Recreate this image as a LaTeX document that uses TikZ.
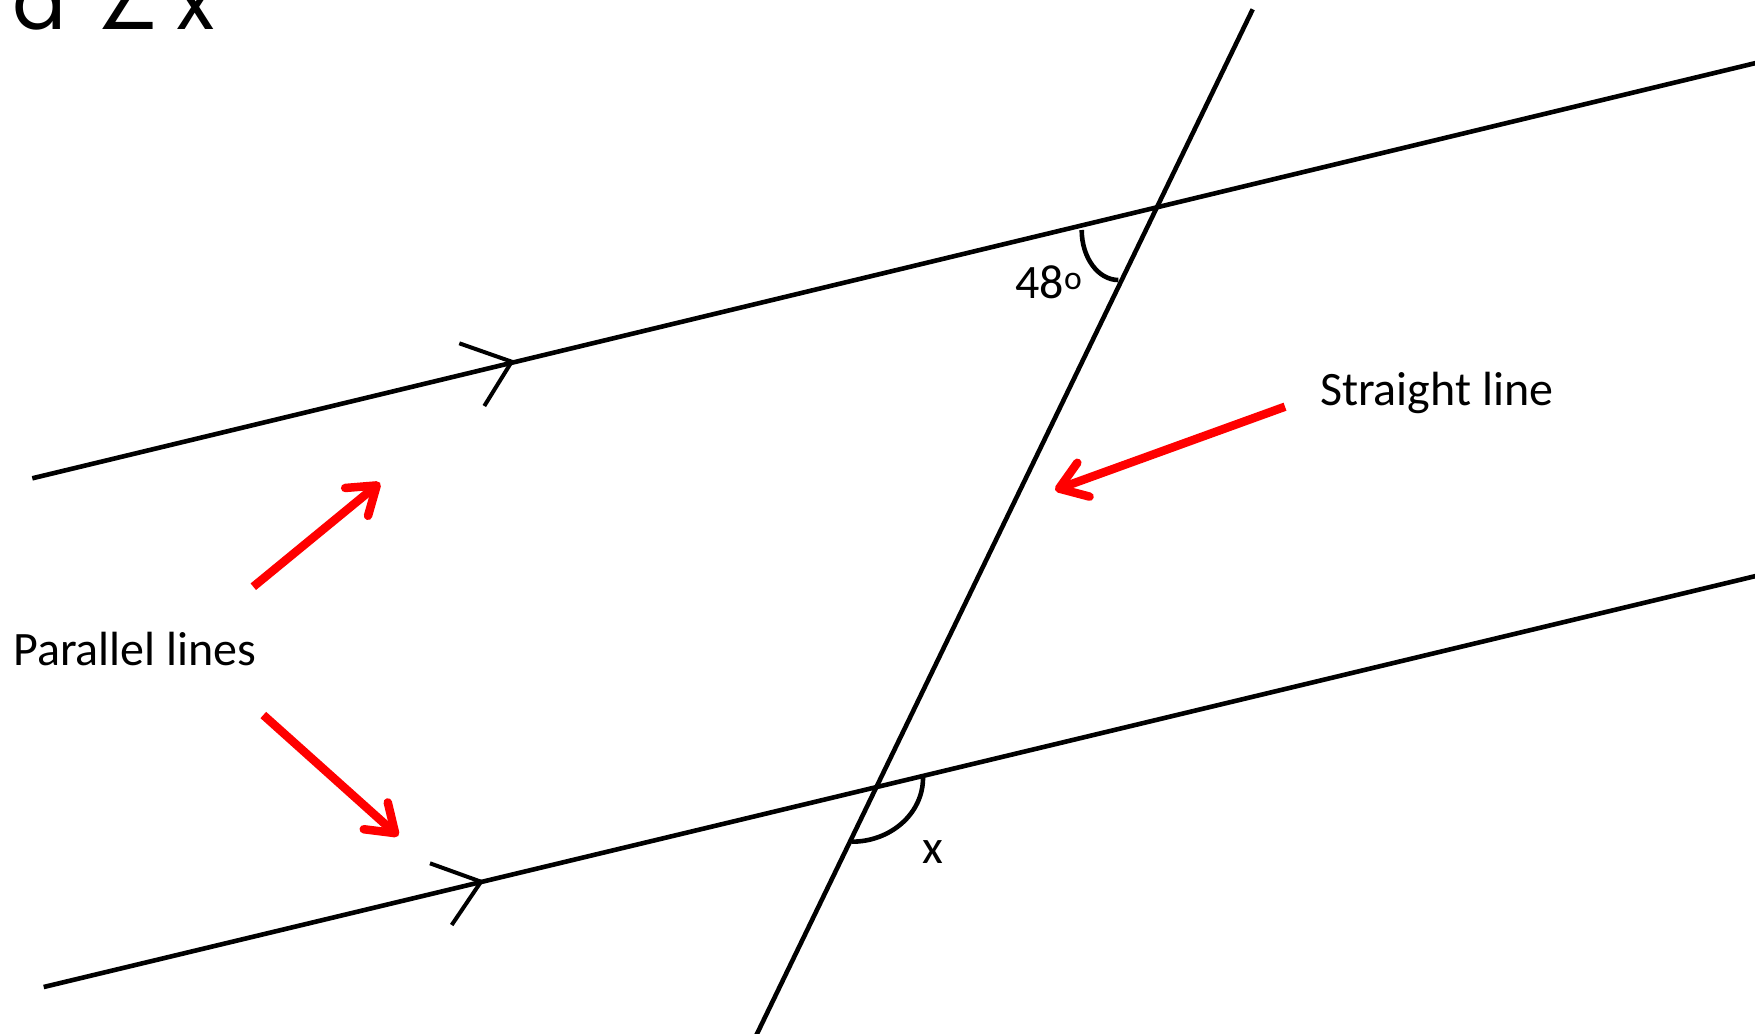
\documentclass[tikz,border=0pt]{standalone}
\usepackage{fontspec}
\setmainfont{Carlito}
\newfontfamily\headfont{Poppins}
\newfontfamily\symfont{DejaVu Sans}
\usetikzlibrary{arrows.meta}
\tikzset{
  geo/.style={line width=4.6pt},
  chev/.style={line width=4pt},
  pointer/.style={red, line width=8.5pt, -{Straight Barb[round, length=26pt, width=36pt]}},
  lbl/.style={font=\fontsize{48}{56}\selectfont, inner sep=0pt},
}

\begin{document}
\begin{tikzpicture}[x=1pt, y=-1pt]
            \useasboundingbox (0, 0) rectangle (1755, 1033);
            \clip (0, 0) rectangle (1755, 1033);

            \coordinate (A1) at (32.3, 478.3);
            \coordinate (A2) at (1760, 62);
            \coordinate (B1) at (43.7, 987);
            \coordinate (B2) at (1760, 575);
            \coordinate (T1) at (1252.7, 9.3);
            \coordinate (T2) at (754, 1040);

            \draw [geo] (A1) -- (A2);
            \draw [geo] (B1) -- (B2);
            \draw [geo] (T1) -- (T2);

            \draw [chev] (459.3, 343.3) -- (511.7, 361.7) -- (484.3, 406);
            \draw [chev] (430, 863.3) -- (481, 881.7) -- (451.7, 925);

            \draw [geo] (1081.7, 230) arc [start angle=180, end angle=90, x radius=36.6, y radius=50];
            \draw [geo] (923, 778) arc [start angle=0, end angle=90, x radius=71.3, y radius=63.7];

            \node [lbl, anchor=base] (ang) at (1049, 298.3) {48\textsuperscript{o}};
            \node [lbl, anchor=base] (x) at (933, 863) {x};
            \node [lbl, anchor=base] (par) at (135, 665) {Parallel lines};
            \node [lbl, anchor=base] (str) at (1436.7, 405) {Straight line};
            \node [anchor=base west, inner sep=0pt, font=\headfont\fontsize{80}{88}\selectfont] (head) at (12, 30)
                {\makebox[84pt][l]{a}\makebox[80pt][l]{\symfont\fontsize{72}{80}\selectfont∠}x};

            \coordinate (P1) at (253.3, 586.7);
            \coordinate (P2) at (380, 482.7);
            \coordinate (Q1) at (263.3, 715);
            \coordinate (Q2) at (398.3, 836);
            \coordinate (S1) at (1285, 406.7);
            \coordinate (S2) at (1055, 490);

            \draw [pointer] (P1) -- (P2);
            \draw [pointer] (Q1) -- (Q2);
            \draw [pointer] (S1) -- (S2);
        \end{tikzpicture}
\end{document}
